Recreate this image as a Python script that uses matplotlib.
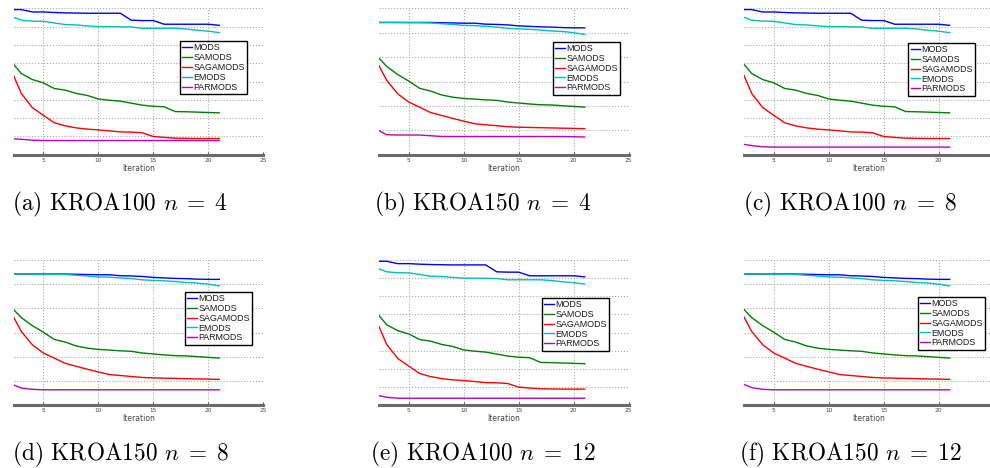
import matplotlib
matplotlib.use("Agg")
import matplotlib.pyplot as plt

plt.rcParams['mathtext.fontset'] = 'cm'

iterations = list(range(2, 22))
series_names = ["MODS", "SAMODS", "SAGAMODS", "EMODS", "PARMODS"]
series_colors = ["#0000ff", "#008000", "#ff0000", "#00bfbf", "#bf00bf"]

# KROA100 curves (panels a, c, e)
kroa100_mods = [7.93, 7.93, 7.80, 7.80, 7.77, 7.75, 7.74, 7.73, 7.73, 7.73, 7.73,
                7.35, 7.33, 7.33, 7.13, 7.13, 7.13, 7.13, 7.13, 7.07]
kroa100_samods = [5.15, 4.44, 4.11, 3.93, 3.62, 3.53, 3.35, 3.24, 3.05, 2.98, 2.93,
                  2.82, 2.71, 2.65, 2.62, 2.36, 2.35, 2.33, 2.31, 2.29]
kroa100_sagamods = [4.75, 3.35, 2.58, 2.16, 1.75, 1.58, 1.47, 1.40, 1.36, 1.31, 1.25,
                    1.24, 1.20, 1.00, 0.95, 0.91, 0.90, 0.89, 0.89, 0.89]
kroa100_emods = [7.58, 7.35, 7.30, 7.29, 7.20, 7.11, 7.09, 7.04, 7.00, 7.00, 6.99,
                 6.98, 6.91, 6.91, 6.91, 6.91, 6.87, 6.80, 6.75, 6.67]
kroa100_parmods_n4 = [0.88, 0.85, 0.80, 0.78, 0.78, 0.78, 0.78, 0.78, 0.78, 0.78,
                      0.78, 0.78, 0.78, 0.78, 0.78, 0.78, 0.78, 0.78, 0.78, 0.78]
kroa100_parmods_n8 = [0.60, 0.50, 0.44, 0.42, 0.42, 0.42, 0.42, 0.42, 0.42, 0.42,
                      0.42, 0.42, 0.42, 0.42, 0.42, 0.42, 0.42, 0.42, 0.42, 0.42]
kroa100_parmods_n12 = [0.57, 0.44, 0.39, 0.39, 0.39, 0.39, 0.39, 0.39, 0.39, 0.39,
                       0.39, 0.39, 0.39, 0.39, 0.39, 0.39, 0.39, 0.39, 0.39, 0.39]

# KROA150 curves (panels b, d, f)
kroa150_mods = [5.42, 5.42, 5.42, 5.42, 5.42, 5.42, 5.41, 5.40, 5.39, 5.39, 5.35,
                5.34, 5.32, 5.28, 5.26, 5.24, 5.23, 5.21, 5.20, 5.20]
kroa150_samods = [4.10, 3.62, 3.29, 3.02, 2.72, 2.61, 2.45, 2.36, 2.31, 2.28, 2.25,
                  2.23, 2.16, 2.12, 2.08, 2.05, 2.04, 2.01, 1.98, 1.95]
kroa150_sagamods = [3.90, 3.05, 2.50, 2.16, 1.95, 1.73, 1.61, 1.49, 1.38, 1.27, 1.23,
                    1.19, 1.15, 1.13, 1.12, 1.11, 1.10, 1.09, 1.08, 1.07]
kroa150_emods = [5.42, 5.42, 5.42, 5.41, 5.41, 5.40, 5.37, 5.34, 5.30, 5.29, 5.26,
                 5.23, 5.18, 5.16, 5.14, 5.11, 5.07, 5.05, 5.00, 4.93]
kroa150_parmods_n4 = [1.06, 0.82, 0.81, 0.81, 0.81, 0.78, 0.75, 0.75, 0.75, 0.75,
                      0.75, 0.75, 0.75, 0.75, 0.75, 0.75, 0.75, 0.75, 0.74, 0.73]
kroa150_parmods_n8 = [0.90, 0.71, 0.66, 0.64, 0.64, 0.64, 0.64, 0.64, 0.64, 0.64,
                      0.64, 0.64, 0.64, 0.64, 0.64, 0.64, 0.64, 0.64, 0.64, 0.64]
kroa150_parmods_n12 = [0.92, 0.73, 0.66, 0.64, 0.64, 0.64, 0.64, 0.64, 0.64, 0.64,
                       0.64, 0.64, 0.64, 0.64, 0.64, 0.64, 0.64, 0.64, 0.64, 0.64]

x_tick_values = [5, 10, 15, 20, 25]
x_tick_labels = ["5", "10", "15", "20", "25"]

captions = [r"(a) KROA100 $n\;=\;4$", r"(b) KROA150 $n\;=\;4$", r"(c) KROA100 $n\;=\;8$",
            r"(d) KROA150 $n\;=\;8$", r"(e) KROA100 $n\;=\;12$", r"(f) KROA150 $n\;=\;12$"]

panels = [
    [kroa100_mods, kroa100_samods, kroa100_sagamods, kroa100_emods, kroa100_parmods_n4],
    [kroa150_mods, kroa150_samods, kroa150_sagamods, kroa150_emods, kroa150_parmods_n4],
    [kroa100_mods, kroa100_samods, kroa100_sagamods, kroa100_emods, kroa100_parmods_n8],
    [kroa150_mods, kroa150_samods, kroa150_sagamods, kroa150_emods, kroa150_parmods_n8],
    [kroa100_mods, kroa100_samods, kroa100_sagamods, kroa100_emods, kroa100_parmods_n12],
    [kroa150_mods, kroa150_samods, kroa150_sagamods, kroa150_emods, kroa150_parmods_n12],
]
panel_ymax = [8, 6, 8, 6, 8, 6]

# layout (pixels)
W, H = 990, 468
col_left = [13.6, 379.0, 744.0]
ax_w = 249.7
row_top = [8.3, 260.0]
row_bot = [154.8, 405.3]
legend_ul = [(180, 41), (552.7, 41.7), (908.3, 42.7),
             (185, 291.7), (541.7, 297.7), (917.7, 296.7)]
caption_cx = [120, 483, 850]
caption_cy = [204, 454]

fig = plt.figure(figsize=(W / 100, H / 100), dpi=100)

for i in range(6):
    r, c = divmod(i, 3)
    left = col_left[c] / W
    bottom = 1 - row_bot[r] / H
    height = (row_bot[r] - row_top[r]) / H
    ax = fig.add_axes([left, bottom, ax_w / W, height])
    for name, color, vals in zip(series_names, series_colors, panels[i]):
        ax.plot(iterations, vals, color=color, lw=1.0, label=name)
    ax.set_xlim(2.3, 25)
    ax.set_ylim(0, panel_ymax[i])
    ax.set_xticks(x_tick_values)
    labels = list(x_tick_labels)
    if c == 2:
        labels[-1] = ""  # this label falls beyond the figure's right edge
    ax.set_xticklabels(labels)
    ax.set_yticks(range(0, panel_ymax[i] + 1))
    ax.set_yticklabels([])
    ax.tick_params(axis='y', length=0)
    ax.tick_params(axis='x', direction='in', length=2, width=0.6, pad=2,
                   labelsize=4.2, colors='#333333', labelcolor='#444444')
    ax.grid(True, linestyle=':', color='#aaaaaa', linewidth=0.8)
    for s in ['left', 'top', 'right']:
        ax.spines[s].set_visible(False)
    ax.spines['bottom'].set_linewidth(2.2)
    ax.spines['bottom'].set_color('#6a6a6a')
    ax.set_xlabel("Iteration", fontsize=5.5, color='#444444', labelpad=1)
    lx, ly = legend_ul[i]
    leg = ax.legend(loc='upper left', bbox_to_anchor=(lx / W, 1 - ly / H),
                    bbox_transform=fig.transFigure, borderaxespad=0,
                    handlelength=1.1, handletextpad=0.15,
                    borderpad=0.25, labelspacing=0.1, fancybox=False,
                    framealpha=1, edgecolor='black',
                    prop={'family': 'Liberation Sans', 'size': 6.4})
    leg.get_frame().set_linewidth(1.0)
    for t in leg.get_texts():
        t.set_color('#1a1a1a')
    fig.text(caption_cx[c] / W, 1 - caption_cy[r] / H, captions[i],
             ha='center', va='center', fontsize=16.8, family='cmr10')

fig.savefig("out.png", dpi=100)
